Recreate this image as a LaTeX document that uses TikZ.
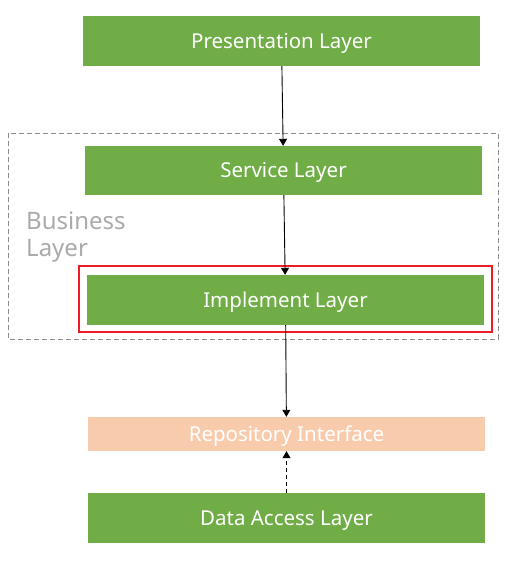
\documentclass[tikz,border=0pt]{standalone}
\usepackage{fontspec}
\setmainfont{Noto Sans}
\usetikzlibrary{arrows.meta}
\definecolor{lgreen}{HTML}{70AD47}
\definecolor{peach}{HTML}{F8CBAD}
\definecolor{dgray}{HTML}{8C8C8C}
\definecolor{tgray}{HTML}{AAAAAA}
\definecolor{rred}{HTML}{EE1C25}
\tikzset{
  layer/.style={fill=lgreen, text=white, minimum width=397pt, minimum height=50pt, inner sep=0pt, text height=14.6pt, text depth=0pt, font=\fontsize{20.5}{22}\selectfont},
  iface/.style={layer, fill=peach, minimum height=34pt},
  conn/.style={draw=black, line width=0.9pt, -{Triangle[width=8pt,length=7pt]}},
  dconn/.style={conn, dash pattern=on 4pt off 3pt}
}
\begin{document}
\begin{tikzpicture}[x=1pt,y=-1pt]
\useasboundingbox (0,0) rectangle (506,567);
\draw[dgray, line width=1pt, dash pattern=on 5pt off 3pt] (8,133) rectangle (498,339);
\draw[rred, line width=2pt] (79,266) rectangle (492,332);
\node[layer] (pres) at (281.5,41) {Presentation Layer};
\node[layer, minimum height=49pt] (serv) at (283.5,170.5) {Service Layer};
\node[layer] (impl) at (285.5,300) {Implement Layer};
\node[iface] (repo) at (286.5,434) {Repository Interface};
\node[layer] (data) at (286.5,518) {Data Access Layer};
\node[anchor=north west, align=left, text=tgray, inner sep=0pt, font=\fontsize{24}{27}\selectfont] (biz) at (26,212) {Business\\Layer};
\draw[conn] (pres) -- (serv);
\draw[conn] (serv) -- (impl);
\draw[conn] (impl) -- (repo);
\draw[dconn] (data) -- (repo);
\end{tikzpicture}
\end{document}
